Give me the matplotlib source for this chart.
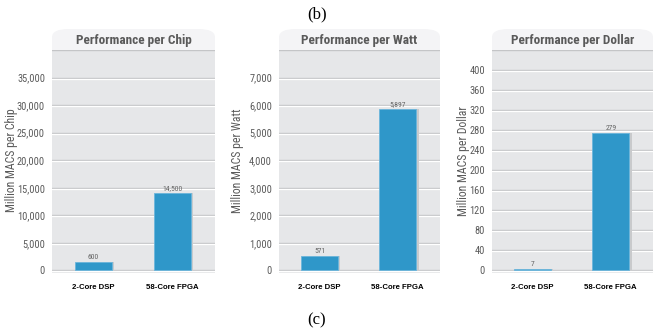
import matplotlib
matplotlib.use("Agg")
import matplotlib.pyplot as plt
from matplotlib.patches import FancyBboxPatch, Rectangle
from matplotlib import font_manager

W, H = 653, 333

categories = ["2-Core DSP", "58-Core FPGA"]

titles   = ["Performance per Chip", "Performance per Watt", "Performance per Dollar"]
ylabels  = ["Million MACS per Chip", "Million MACS per Watt", "Million MACS per Dollar"]
# bar heights as drawn in the picture, and the value labels printed above them
heights  = [[1500, 14100], [540, 5850], [3, 275]]
vlabels  = [["600", "14,500"], ["571", "5,897"], ["7", "279"]]
yticks   = [list(range(0, 35001, 5000)), list(range(0, 7001, 1000)), list(range(0, 401, 40))]
ytop     = [40000, 8000, 440]
ybot     = [-470, -95, -5]

# panel geometry in pixels: left, right, ylabel x
panels = [(52, 215, 12), (279, 440, 237), (492, 653, 463)]
TITLE_TOP, BODY_TOP, BODY_BOT = 29, 50, 273

names = {f.name for f in font_manager.fontManager.ttflist}
narrow = next((n for n in ["Roboto Condensed", "PT Sans Narrow", "Fira Sans Condensed",
                           "Liberation Sans Narrow", "DejaVu Sans"] if n in names), "DejaVu Sans")
sans = "Liberation Sans" if "Liberation Sans" in names else "DejaVu Sans"

BODY = "#e6e7e9"
BAND = "#f4f4f6"
BAR = "#2f97c9"
GRAY = "#5a5a5a"

fig = plt.figure(figsize=(W / 100, H / 100), dpi=100)

def fx(px): return px / W
def fy(py): return 1 - py / H

for i in range(3):
    l, r, ylx = panels[i]
    # title band with rounded top
    band = FancyBboxPatch((fx(l), fy(BODY_TOP)), fx(r - l), (BODY_TOP - TITLE_TOP) / H,
                          boxstyle="round,pad=0,rounding_size=0.025", transform=fig.transFigure,
                          facecolor=BAND, edgecolor="none", zorder=0)
    fig.patches.append(band)
    fig.patches.append(Rectangle((fx(l), fy(BODY_TOP)), fx(r - l), 8 / H, transform=fig.transFigure,
                                 facecolor=BAND, edgecolor="none", zorder=0))
    fig.text(fx((l + r) / 2), fy((TITLE_TOP + BODY_TOP) / 2 + 1), titles[i], ha="center", va="center",
             fontsize=9.5, fontweight="bold", color=GRAY, family=narrow)

    ax = fig.add_axes([fx(l), fy(BODY_BOT), fx(r - l), (BODY_BOT - BODY_TOP) / H])
    ax.set_facecolor(BODY)
    for s in ax.spines.values():
        s.set_visible(False)
    ax.set_ylim(ybot[i], ytop[i])
    ax.set_xlim(-0.52, 1.54)
    span = ytop[i] - ybot[i]
    px = span / (BODY_BOT - BODY_TOP)
    for v in yticks[i] + [ytop[i]]:
        ax.axhline(v, color="#c4c5c7", lw=1.0, zorder=1)
        if v != ytop[i]:
            ax.axhline(v - px, color="white", lw=0.9, zorder=1)
    x = [0, 1]
    # bar shadow
    ax.bar([xx + 0.03 for xx in x], heights[i], width=0.47, color="#c9cacc", zorder=2)
    ax.bar(x, heights[i], width=0.47, color=BAR, edgecolor="#6cb6dc", linewidth=0.6, zorder=3)
    for xx, h, lab in zip(x, heights[i], vlabels[i]):
        ax.text(xx, h + 2 * px, lab, ha="center", va="bottom", fontsize=5.5, color="#666666",
                family=narrow, zorder=4)
    ax.set_yticks(yticks[i])
    ax.set_yticklabels([f"{v:,}" for v in yticks[i]], fontsize=7.5, color=GRAY, family=narrow)
    ax.tick_params(axis="y", length=0, pad=5)
    ax.set_xticks(x)
    ax.set_xticklabels(categories, fontsize=5.6, fontweight="bold", color="black", family=sans)
    ax.tick_params(axis="x", length=0, pad=8)
    fig.text(fx(ylx), fy((BODY_TOP + BODY_BOT) / 2 - 1), ylabels[i], rotation=90, ha="center",
             va="center", fontsize=8.5, color=GRAY, family=narrow)

fig.text(fx(317), fy(14), "(b)", ha="center", va="center", fontsize=12, family="Liberation Serif")
fig.text(fx(317), fy(320), "(c)", ha="center", va="center", fontsize=12, family="Liberation Serif")

fig.savefig("out.png", dpi=100)
